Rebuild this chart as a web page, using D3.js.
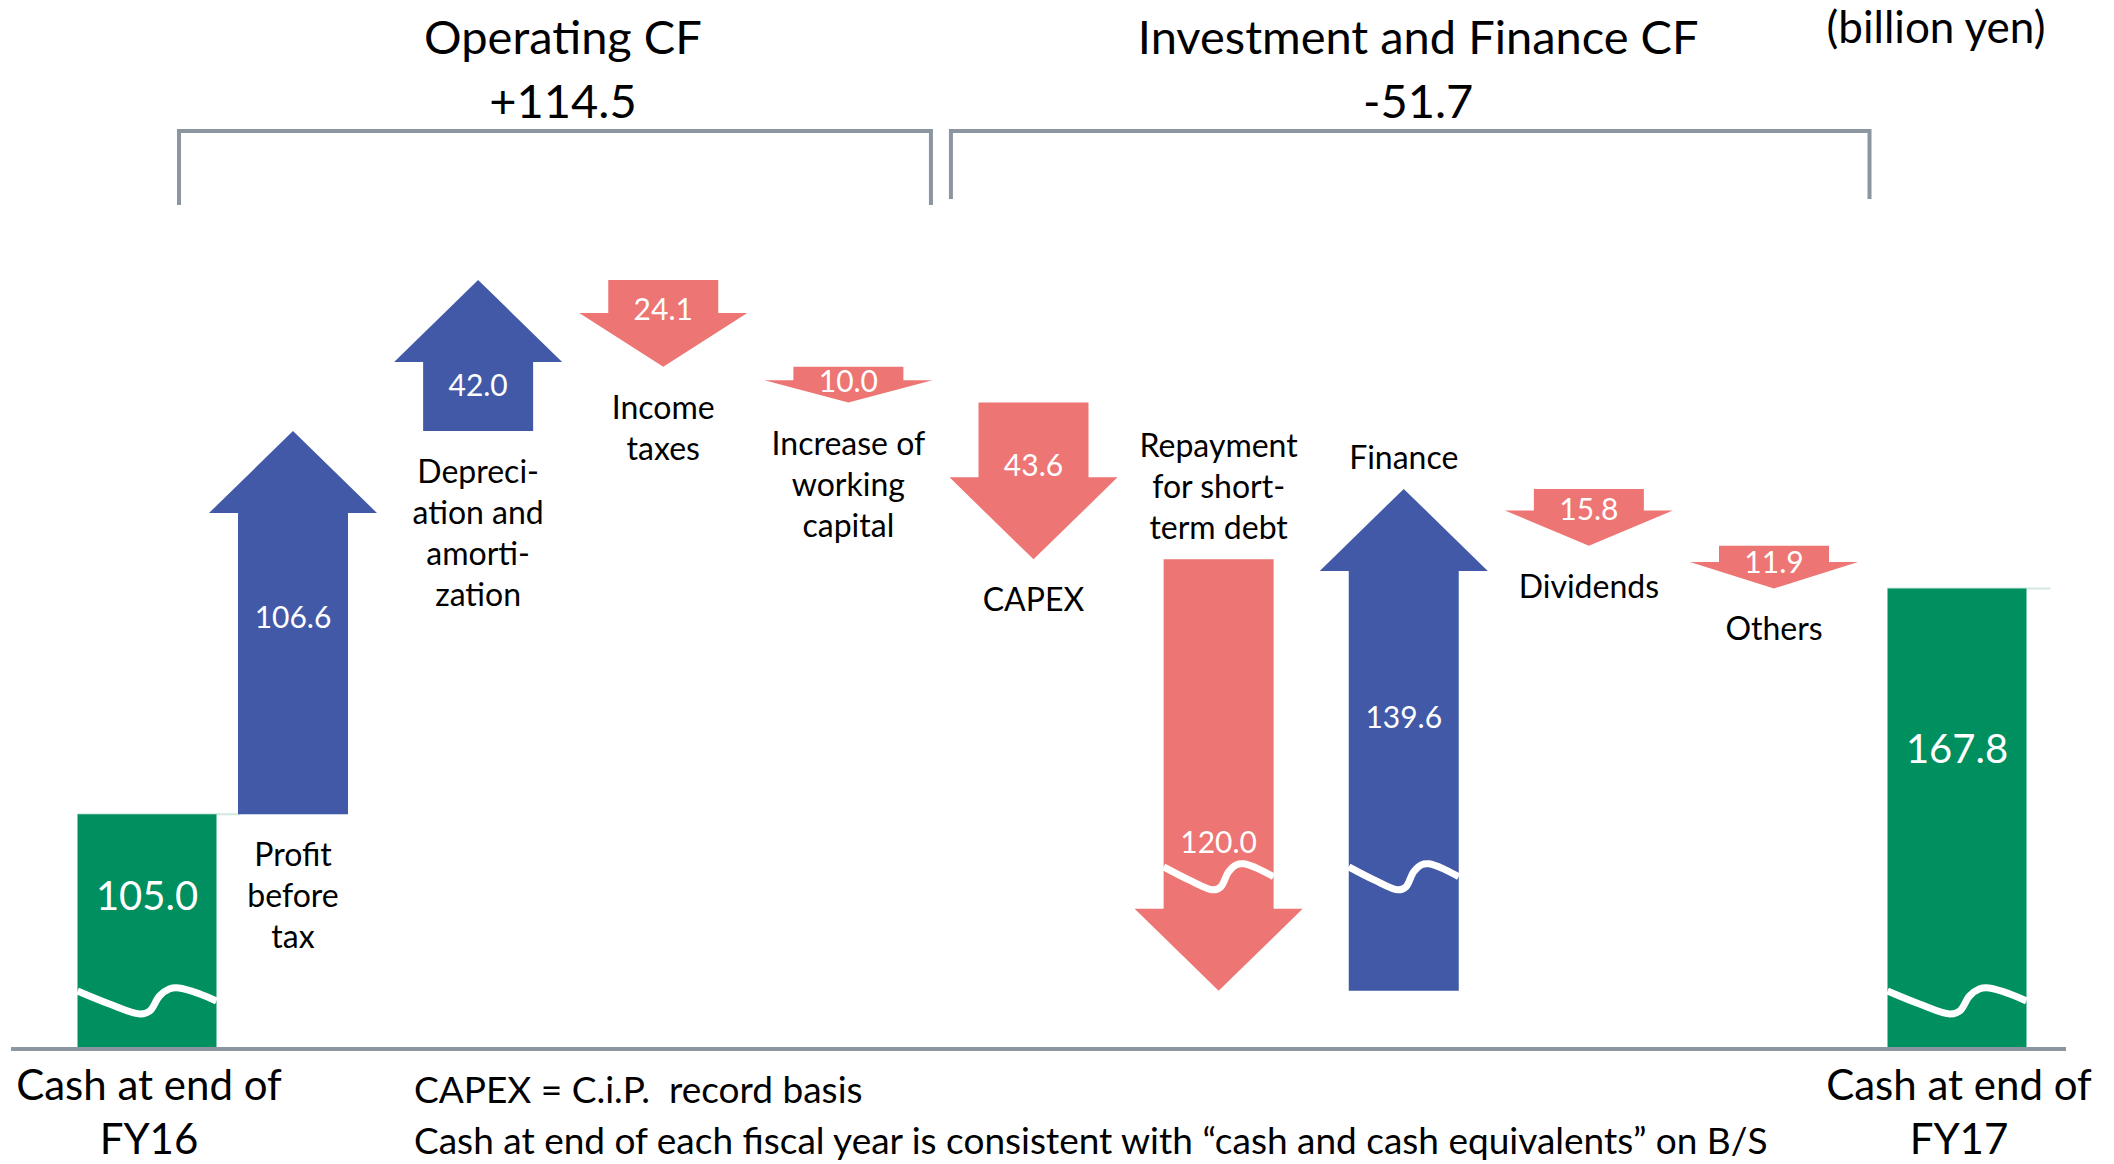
<!DOCTYPE html>
<html>
<head>
<meta charset="utf-8">
<script src="https://cdn.jsdelivr.net/npm/d3@7"></script>
<style>
  html, body { margin: 0; padding: 0; background: #fff; }
  svg { display: block; }
  text { font-family: Lato, "Open Sans", sans-serif; }
</style>
</head>
<body>
<div class="chart"></div>
<script>
// billion yen
const cashStart = 105.0;
const cashEnd = 167.8;
const cashNames = ["FY16", "FY17"];
const cashLabels = [["Cash at end of", "FY16"], ["Cash at end of", "FY17"]];

const steps = ["Profit before tax", "Depreciation and amortization", "Income taxes",
  "Increase of working capital", "CAPEX", "Repayment for short-term debt",
  "Finance", "Dividends", "Others"];
const stepValues = [106.6, 42.0, -24.1, -10.0, -43.6, -120.0, 139.6, -15.8, -11.9];
const stepLabels = [["Profit", "before", "tax"], ["Depreci-", "ation and", "amorti-", "zation"],
  ["Income", "taxes"], ["Increase of", "working", "capital"], ["CAPEX"],
  ["Repayment", "for short-", "term debt"], ["Finance"], ["Dividends"], ["Others"]];

const groups = ["Operating CF", "Investment and Finance CF"];
const groupSize = [4, 5];
const unitLabel = "(billion yen)";
const notes = ["CAPEX = C.i.P.  record basis",
  "Cash at end of each fiscal year is consistent with \u201ccash and cash equivalents\u201d on B/S"];

const W = 2114, H = 1164;
const baseY = 1048;
const colors = { cash: "#008f5f", up: "#4259a7", down: "#ed7573", rule: "#8c96a1" };
const sw = 110, hw = 168, cashW = 139;

const svg = d3.select("div.chart").append("svg")
  .attr("width", W).attr("height", H);

// running totals
let level = cashStart;
const flows = steps.map(function (name, i) {
  const from = level;
  level += stepValues[i];
  return { name: name, value: stepValues[i], from: from, to: level, lines: stepLabels[i] };
});
const levels = [cashStart, cashEnd].concat(flows.map(d => d.to));
const floorLevel = d3.min(levels);

const xCash = d3.scalePoint().domain(cashNames).range([147, 1957]);
const xStep = d3.scalePoint().domain(steps).range([293, 1774]);
const y = d3.scaleLinear().domain([40, d3.max(levels)]).range([baseY, 280]);

const fmt = d3.format(".1f");
const fmtSigned = d3.formatLocale({ decimal: ".", thousands: ",", grouping: [3], currency: ["", ""], minus: "-" }).format("+.1f");

// wave break marks
const wave = [[0, 0], [0.23, 13], [0.45, 23], [0.52, 20], [0.59, 5], [0.66, -2], [0.73, -3], [0.88, 3], [1, 10]];
const waveLine = d3.line().curve(d3.curveCatmullRom);
function drawWave(x0, w, top) {
  svg.append("path")
    .attr("d", waveLine(wave.map(p => [x0 + p[0] * w, top + p[1]])))
    .attr("fill", "none").attr("stroke", "#fff").attr("stroke-width", 7);
}

// cash bars
const cash = [{ name: cashNames[0], value: cashStart, lines: cashLabels[0] },
              { name: cashNames[1], value: cashEnd, lines: cashLabels[1] }];
cash.forEach(function (d) {
  const cx = xCash(d.name);
  const top = y(d.value);
  svg.append("line")
    .attr("x1", cx - cashW / 2).attr("x2", cx + cashW / 2 + 24)
    .attr("y1", top).attr("y2", top)
    .attr("stroke", "#d3e8df").attr("stroke-width", 2);
  svg.append("rect")
    .attr("x", cx - cashW / 2).attr("y", top)
    .attr("width", cashW).attr("height", baseY - top)
    .attr("fill", colors.cash);
  drawWave(cx - cashW / 2, cashW, baseY - 57);
  svg.append("text")
    .attr("x", cx).attr("y", top + 0.35 * (baseY - top) + 14)
    .attr("text-anchor", "middle").attr("fill", "#fff")
    .style("font-size", "40px").text(fmt(d.value));
  d.lines.forEach(function (t, i) {
    svg.append("text")
      .attr("x", cx + 2).attr("y", 1100 + i * 54)
      .attr("text-anchor", "middle").attr("fill", "#000")
      .style("font-size", "42px").text(t);
  });
});

// arrows
flows.forEach(function (d) {
  const cx = xStep(d.name);
  const y0 = y(d.from), y1 = y(d.to);
  const len = Math.abs(y1 - y0);
  const head = Math.min(82, 0.62 * len);
  const dir = y1 < y0 ? -1 : 1;
  const hb = y1 - dir * head;
  const p = d3.path();
  p.moveTo(cx - sw / 2, y0);
  p.lineTo(cx - sw / 2, hb);
  p.lineTo(cx - hw / 2, hb);
  p.lineTo(cx, y1);
  p.lineTo(cx + hw / 2, hb);
  p.lineTo(cx + sw / 2, hb);
  p.lineTo(cx + sw / 2, y0);
  p.closePath();
  svg.append("path").attr("d", p.toString())
    .attr("fill", d.value > 0 ? colors.up : colors.down);

  if (Math.min(d.from, d.to) === floorLevel) {
    drawWave(cx - sw / 2, sw, y(floorLevel) - 124);
  }

  const shaft = Math.abs(y0 - hb);
  const vy = dir < 0 ? hb + 0.35 * shaft : hb - 0.2 * shaft + 4;
  svg.append("text")
    .attr("x", cx).attr("y", vy + 10)
    .attr("text-anchor", "middle").attr("fill", "#fff")
    .style("font-size", "30px").text(fmt(Math.abs(d.value)));

  const low = Math.max(y0, y1), high = Math.min(y0, y1);
  const lh = 41;
  const below = low + 50 + (d.lines.length - 1) * lh < 1000;
  const first = below ? low + 52 : high - 20 - (d.lines.length - 1) * lh;
  d.lines.forEach(function (t, i) {
    svg.append("text")
      .attr("x", cx).attr("y", first + i * lh)
      .attr("text-anchor", "middle").attr("fill", "#000")
      .style("font-size", "32px").text(t);
  });
});

// group brackets and totals
let start = 0;
groups.forEach(function (g, gi) {
  const members = flows.slice(start, start + groupSize[gi]);
  const firstX = xStep(members[0].name);
  const lastX = xStep(members[members.length - 1].name);
  const prevX = start === 0 ? null : xStep(steps[start - 1]);
  const nextX = start + groupSize[gi] < steps.length ? xStep(steps[start + groupSize[gi]]) : xCash(cashNames[1]);
  const left = prevX === null ? firstX - hw / 2 - 30 : (prevX + firstX) / 2 + 10;
  const right = gi === 0 ? (lastX + nextX) / 2 - 10 : (lastX + nextX) / 2 + 4;
  const bottom = gi === 0 ? 205 : 199;
  svg.append("path")
    .attr("d", "M" + left + "," + bottom + "V131H" + right + "V" + bottom)
    .attr("fill", "none").attr("stroke", colors.rule).attr("stroke-width", 4);
  const mid = (left + right) / 2 + 8;
  svg.append("text").attr("x", mid).attr("y", 54)
    .attr("text-anchor", "middle").style("font-size", "47px").text(g);
  svg.append("text").attr("x", mid).attr("y", 118)
    .attr("text-anchor", "middle").style("font-size", "47px")
    .text(fmtSigned(d3.sum(members, d => d.value)));
  start += groupSize[gi];
});

svg.append("text").attr("x", 1936).attr("y", 43)
  .attr("text-anchor", "middle").style("font-size", "44px").text(unitLabel);

// baseline
svg.append("line")
  .attr("x1", 11).attr("x2", 2066).attr("y1", baseY + 1).attr("y2", baseY + 1)
  .attr("stroke", colors.rule).attr("stroke-width", 4);

notes.forEach(function (t, i) {
  svg.append("text").attr("x", 414).attr("y", 1103 + i * 51)
    .attr("xml:space", "preserve").style("white-space", "pre")
    .style("font-size", "37px").text(t);
});
</script>
</body>
</html>
